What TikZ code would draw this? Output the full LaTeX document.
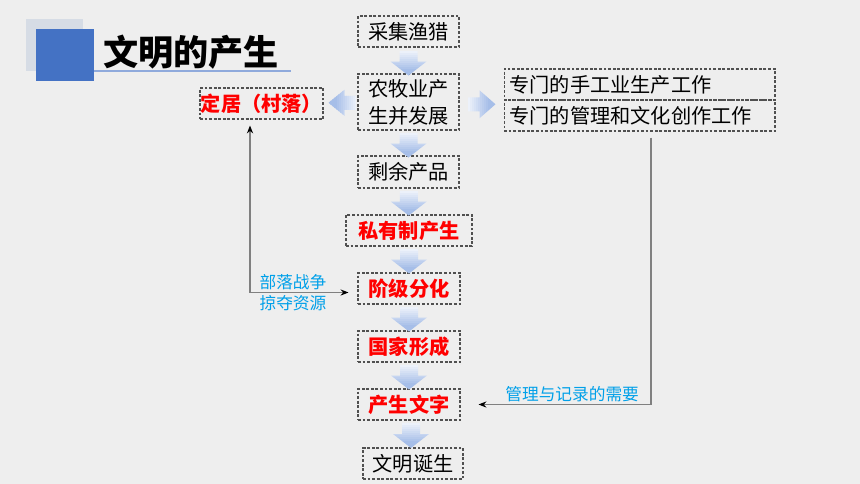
\documentclass[tikz,border=0pt]{standalone}
\usepackage{fontspec}
\setmainfont{Noto Sans CJK SC}
\usepackage{tikz}
\usetikzlibrary{positioning,calc,arrows.meta}

\definecolor{bggray}{RGB}{238,238,238}
\definecolor{titleblue}{RGB}{68,114,196}
\definecolor{titlegray}{RGB}{214,220,229}
\definecolor{lineblue}{RGB}{143,170,220}
\definecolor{arrlight}{RGB}{236,241,250}
\definecolor{arrdark}{RGB}{166,190,232}
\definecolor{notered}{RGB}{255,0,0}
\definecolor{noteblue}{RGB}{0,160,233}
\definecolor{boxline}{RGB}{80,80,80}

\tikzset{
  box/.style={draw=boxline, dash pattern=on 1.6pt off 1pt, line width=0.6pt, inner sep=0pt,
    minimum height=0.62cm, align=center, font=\fontsize{11.5}{15.5}\selectfont},
  keybox/.style={box, text=notered, font=\fontsize{11.5}{15.5}\selectfont\bfseries},
  widebox/.style={box, minimum width=5.42cm, text width=5.2cm, align=left, font=\fontsize{11.5}{15}\selectfont},
  link/.style={draw=black!50, line width=0.7pt},
  note/.style={text=noteblue, font=\fontsize{9.5}{12}\selectfont, align=center, inner sep=1pt},
  pics/downarr/.style={code={
    \begin{scope}
      \clip (-9,-12) -- (9,-12) -- (9,-1) -- (18,-1) -- (0,13) -- (-18,-1) -- (-9,-1) -- cycle;
      \foreach \i in {0,...,12} {
        \pgfmathtruncatemacro\pct{min(100,\i*100/9)}
        \fill[arrdark!\pct!arrlight] (-20,-12+2*\i) rectangle (20,-9.8+2*\i);
      }
    \end{scope}}},
  pics/leftarr/.style={code={
    \begin{scope}
      \clip (14,-7) -- (2,-7) -- (2,-13) -- (-14,0) -- (2,13) -- (2,7) -- (14,7) -- cycle;
      \foreach \i in {0,...,13} {
        \pgfmathtruncatemacro\pct{min(100,\i*100/10)}
        \fill[arrdark!\pct!arrlight] (14-2*\i,-15) rectangle (11.8-2*\i,15);
      }
    \end{scope}}},
  pics/rightarr/.style={code={
    \begin{scope}
      \clip (-14,-7) -- (-2,-7) -- (-2,-14) -- (14,0) -- (-2,14) -- (-2,7) -- (-14,7) -- cycle;
      \foreach \i in {0,...,13} {
        \pgfmathtruncatemacro\pct{min(100,\i*100/10)}
        \fill[arrdark!\pct!arrlight] (-14+2*\i,-15) rectangle (-11.8+2*\i,15);
      }
    \end{scope}}}
}

\begin{document}
\begin{tikzpicture}[x=0.02cm, y=-0.02cm, >={Stealth[length=4.5pt,width=3.5pt,black]}]
	\fill[bggray] (0,0) rectangle (860,484);
	% title
	\fill[titlegray] (26,19) rectangle (83,71);
	\fill[titleblue] (36,29) rectangle (94,81);
	\draw[lineblue, line width=0.8pt] (94,71) -- (291,71);
	\node[anchor=west, inner sep=0pt, font=\fontsize{20}{22}\selectfont\bfseries] (title) at (103,52) {文明的产生};

	% main chain
	\node[box, minimum width=2.02cm] (caiji) at (408.5,31.5) {采集渔猎};
	\node[box, minimum width=2.02cm, minimum height=1.12cm] (nongmu) at (408.5,102) {农牧业产\\生并发展};
	\node[box, minimum width=2.02cm, minimum height=0.64cm] (shengyu) at (408.5,172) {剩余产品};
	\node[keybox, minimum width=2.52cm] (siyou) at (409,230.5) {私有制产生};
	\node[keybox, minimum width=2.04cm] (jieji) at (409,288.5) {阶级分化};
	\node[keybox, minimum width=2.04cm] (guojia) at (409,346.5) {国家形成};
	\node[keybox, minimum width=2.04cm] (wenzi) at (409,404.5) {产生文字};
	\node[box, minimum width=2cm] (dansheng) at (413,463.5) {文明诞生};

	% side boxes
	\node[keybox, minimum width=2.46cm] (dingju) at (261.5,103.5) {定居（村落）};
	\node[widebox] (zhuanmen1) at (639.5,84.5) {专门的手工业生产工作};
	\node[widebox] (zhuanmen2) at (639.5,115.5) {专门的管理和文化创作工作};

	% block arrows
	\pic at ($(caiji.south)!0.5!(nongmu.north)+(0,2)$) {downarr};
	\pic at ($(nongmu.south)!0.5!(shengyu.north)+(0,1.5)$) {downarr};
	\pic at ($(shengyu.south)!0.5!(siyou.north)+(0,1)$) {downarr};
	\pic at ($(siyou.south)!0.5!(jieji.north)+(0,1)$) {downarr};
	\pic at ($(jieji.south)!0.5!(guojia.north)+(0,1)$) {downarr};
	\pic at ($(guojia.south)!0.5!(wenzi.north)+(0,1)$) {downarr};
	\pic at ($(wenzi.south)!0.5!(dansheng.north)+(0,1)$) {downarr};
	\pic at ($(dingju.east)!0.5!(nongmu.west)+(2,0)$) {leftarr};
	\pic at ($(nongmu.east)!0.5!(zhuanmen1.south west)+(0,3)$) {rightarr};

	% connectors
	\draw[link, <->, shorten <=0.12cm, shorten >=0.18cm] ([xshift=-0.23cm]dingju.south) |- ([yshift=-0.08cm]jieji.west)
		node[note, pos=0.7] {部落战争\\掠夺资源};
	\draw[link, ->, shorten <=0.12cm, shorten >=0.36cm] ([xshift=0.23cm]zhuanmen2.south) |- (wenzi.east)
		node[note, pos=0.707, above=0pt] {管理与记录的需要};
\end{tikzpicture}
\end{document}
